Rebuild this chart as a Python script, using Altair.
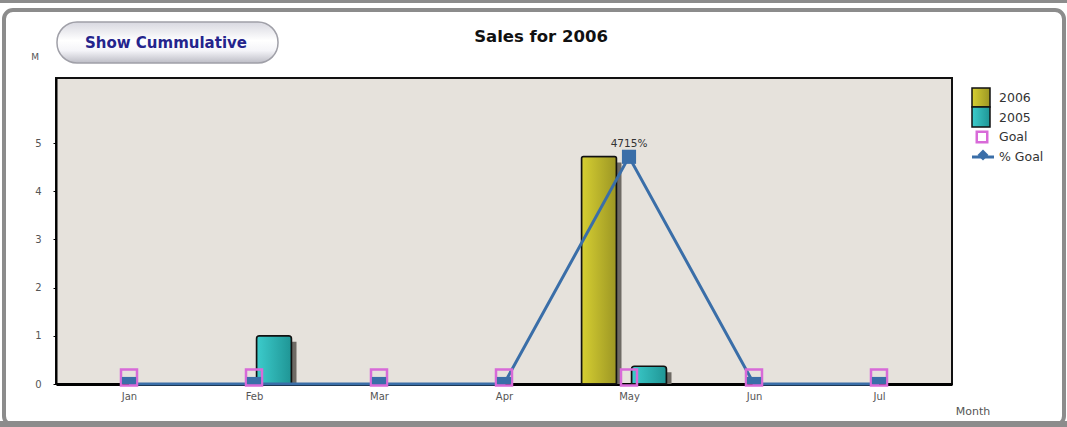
import altair as alt
import pandas as pd

months = ["Jan", "Feb", "Mar", "Apr", "May", "Jun", "Jul"]
sales_2006 = [0, 0, 0, 0, 4.72, 0, 0]
sales_2005 = [0, 1.0, 0, 0, 0.37, 0, 0]
goal = [0.135, 0.135, 0.135, 0.135, 0.135, 0.135, 0.135]
pct_goal = [0, 0, 0, 0, 4715, 0, 0]
y_ticks = [0, 1, 2, 3, 4, 5]
legend_labels = ["2006", "2005", "Goal", "% Goal"]

W, H = 896, 306
PL, PT = 56, 78

df = pd.DataFrame({"month": months, "s2006": sales_2006, "s2005": sales_2005,
                   "goal": goal, "pct": pct_goal})

xs = alt.Scale(type="point", domain=months, padding=0.584)
ys = alt.Scale(domain=[0, 6.35], nice=False, zero=True)

Xax = alt.Axis(title=None, ticks=False, domain=True, domainColor="#000",
               domainWidth=3, labelFont="DejaVu Sans", labelFontSize=10,
               labelColor="#555", labelPadding=7, labelAngle=0, grid=False)
Yax = alt.Axis(title=None, values=y_ticks, grid=False, domainColor="#000", domainWidth=2,
               tickColor="#000", tickSize=3, labelFont="DejaVu Sans", labelFontSize=10,
               labelColor="#555", labelPadding=12)


def X():
    return alt.X("month:N", scale=xs, sort=months, axis=Xax)


def Y(field):
    return alt.Y(field, scale=ys, axis=Yax)


base = alt.Chart(df)
one = alt.Chart(alt.Data(values=[{}]))

# outer frame and top band
top_band = one.mark_rect(color="#8c8c8c").encode(
    x=alt.value(-PL), x2=alt.value(1067 - PL), y=alt.value(-PT), y2=alt.value(3 - PT))
frame = one.mark_rect(fill=None, stroke="#8c8c8c", strokeWidth=4, cornerRadius=9).encode(
    x=alt.value(4 - PL), x2=alt.value(1064 - PL), y=alt.value(10 - PT), y2=alt.value(425 - PT))
bottom_band = one.mark_rect(color="#8c8c8c").encode(
    x=alt.value(-PL), x2=alt.value(1067 - PL), y=alt.value(421 - PT), y2=alt.value(427 - PT))

# button
btn_grad = alt.LinearGradient(gradient="linear", x1=0, y1=0, x2=0, y2=1, stops=[
    alt.GradientStop(color="#d8d8e0", offset=0), alt.GradientStop(color="#ffffff", offset=0.45),
    alt.GradientStop(color="#f4f4f8", offset=0.7), alt.GradientStop(color="#bdbdc6", offset=1)])
button = one.mark_rect(fill=btn_grad, stroke="#a0a0a8", strokeWidth=1.5, cornerRadius=20).encode(
    x=alt.value(57 - PL), x2=alt.value(278 - PL), y=alt.value(22 - PT), y2=alt.value(63 - PT))
button_text = one.mark_text(text="Show Cummulative", font="DejaVu Sans", fontSize=15,
                            fontWeight="bold", color="#24248c", align="center",
                            baseline="middle").encode(
    x=alt.value(166 - PL), y=alt.value(43 - PT))

title = one.mark_text(text="Sales for 2006", font="DejaVu Sans", fontSize=16.5, fontWeight="bold",
                      color="#111", align="center", baseline="middle").encode(
    x=alt.value(541 - PL), y=alt.value(37 - PT))
m_label = one.mark_text(text="M", font="DejaVu Sans", fontSize=9, color="#555",
                        align="center", baseline="middle").encode(
    x=alt.value(35 - PL), y=alt.value(57 - PT))
month_label = one.mark_text(text="Month", font="DejaVu Sans", fontSize=11, color="#555",
                            align="center", baseline="middle").encode(
    x=alt.value(973 - PL), y=alt.value(412 - PT))

g2006 = alt.LinearGradient(gradient="linear", x1=0, y1=0, x2=1, y2=0, stops=[
    alt.GradientStop(color="#d6cf32", offset=0), alt.GradientStop(color="#9c9624", offset=1)])
g2005 = alt.LinearGradient(gradient="linear", x1=0, y1=0, x2=1, y2=0, stops=[
    alt.GradientStop(color="#3ccccc", offset=0), alt.GradientStop(color="#1f9595", offset=1)])

OFF06, OFF05, BW = -30, 20, 35

sh06 = base.transform_filter("datum.s2006 > 0").mark_bar(
    color="#6e6a64", width=BW, xOffset=OFF06 + 5, yOffset=6, clip=True).encode(
    x=X(), y=Y("s2006:Q"))
sh05 = base.transform_filter("datum.s2005 > 0").mark_bar(
    color="#6e6a64", width=BW, xOffset=OFF05 + 5, yOffset=6, clip=True).encode(
    x=X(), y=Y("s2005:Q"))
b06 = base.transform_filter("datum.s2006 > 0").mark_bar(
    fill=g2006, stroke="#111", strokeWidth=1.5, width=BW, xOffset=OFF06,
    cornerRadiusTopLeft=2, cornerRadiusTopRight=2).encode(
    x=X(), y=Y("s2006:Q"))
b05 = base.transform_filter("datum.s2005 > 0").mark_bar(
    fill=g2005, stroke="#111", strokeWidth=1.5, width=BW, xOffset=OFF05,
    cornerRadiusTopLeft=3, cornerRadiusTopRight=3).encode(
    x=X(), y=Y("s2005:Q"))

pct_base = base.transform_calculate(pv="datum.pct / 1000")
line = pct_base.mark_line(color="#3a6ea8", strokeWidth=3).encode(
    x=X(), y=Y("pv:Q"))
pct_pts = pct_base.mark_point(shape="square", filled=True, color="#3a6ea8", size=200,
                              opacity=1, clip=True).encode(
    x=X(), y=Y("pv:Q"))
goal_pts = base.mark_point(shape="square", filled=False, color="#d86ad8", strokeWidth=2.5,
                           size=256, opacity=1).encode(
    x=X(), y=Y("goal:Q"))
pct_lbl = pct_base.transform_filter("datum.pct > 0").transform_calculate(
    t="datum.pct + '%'").mark_text(font="DejaVu Sans", fontSize=10.5, color="#333",
                                   dy=-13, align="center").encode(
    x=X(), y=Y("pv:Q"), text="t:N")

# legend
LX = 972 - PL
leg_df = pd.DataFrame({"label": legend_labels, "row": [0, 1, 2, 3]})
leg_sw = [
    one.mark_rect(fill=g2006, stroke="#111", strokeWidth=1.5).encode(
        x=alt.value(LX), x2=alt.value(LX + 18), y=alt.value(88 - PT), y2=alt.value(107 - PT)),
    one.mark_rect(fill=g2005, stroke="#111", strokeWidth=1.5).encode(
        x=alt.value(LX), x2=alt.value(LX + 18), y=alt.value(107 - PT), y2=alt.value(127 - PT)),
    one.mark_point(shape="square", filled=False, color="#d86ad8", strokeWidth=2.5, size=110,
                   opacity=1).encode(x=alt.value(LX + 10), y=alt.value(137 - PT)),
    one.mark_rule(color="#3a6ea8", strokeWidth=3).encode(
        x=alt.value(LX), x2=alt.value(LX + 22), y=alt.value(157 - PT)),
    one.mark_point(shape="diamond", filled=True, color="#3a6ea8", size=120, opacity=1).encode(
        x=alt.value(LX + 11), y=alt.value(155 - PT)),
]
leg_text = alt.Chart(leg_df).transform_calculate(yy=f"{98 - PT} + datum.row * 19.7").mark_text(
    font="DejaVu Sans", fontSize=12.5, color="#333", align="left", baseline="middle").encode(
    x=alt.value(LX + 27), y=alt.Y("yy:Q", scale=None), text="label:N")

chart = alt.layer(
    sh06, sh05, b06, b05, line, goal_pts, pct_pts, pct_lbl,
    top_band, frame, bottom_band, button, button_text, title, m_label, month_label,
    *leg_sw, leg_text
).properties(
    width=W, height=H, autosize="none",
    padding={"left": PL, "top": PT, "right": 1067 - PL - W, "bottom": 427 - PT - H},
    background="#ffffff"
).configure_view(fill="#e6e2dc", stroke="#111", strokeWidth=2)

chart.save("out.html", embed_options={"renderer": "svg", "actions": False})
